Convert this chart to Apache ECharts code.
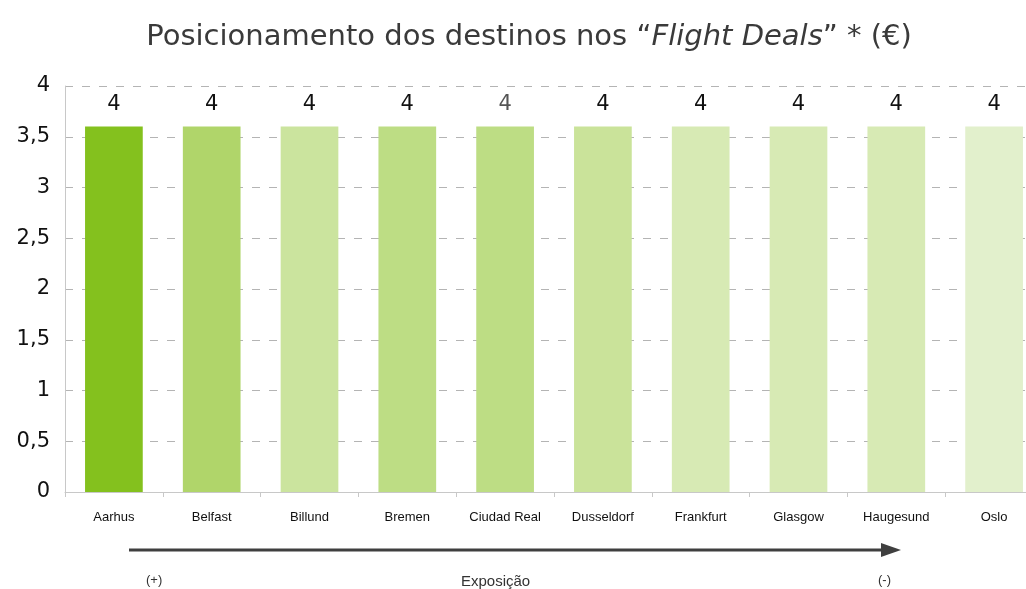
<!DOCTYPE html>
<html>
<head>
<meta charset="utf-8">
<script src="https://cdn.jsdelivr.net/npm/echarts@6/dist/echarts.min.js"></script>
<style>
  html, body { margin: 0; padding: 0; background: #fff; overflow: hidden; }
  /* o gráfico original é cortado à direita */
  #chart { width: 1043px; height: 589px; }
</style>
</head>
<body>
<div id="chart"></div>
<script>
// destinos (ordem por exposição)
var categories = ['Aarhus', 'Belfast', 'Billund', 'Bremen', 'Ciudad Real', 'Dusseldorf', 'Frankfurt', 'Glasgow', 'Haugesund', 'Oslo']
// valores das barras
var values = [3.6, 3.6, 3.6, 3.6, 3.6, 3.6, 3.6, 3.6, 3.6, 3.6]
// rótulos em cima das barras
var barLabels = ['4', '4', '4', '4', '4', '4', '4', '4', '4', '4']
// eixo Y
var yTicks = [0, 0.5, 1, 1.5, 2, 2.5, 3, 3.5, 4]

// cores das barras (verde a desvanecer)
var barColors = ['#84c11e', '#b0d56a', '#cbe49e', '#bddd84', '#bddd84', '#cae39a', '#d7eab4', '#d7eab4', '#d7eab4', '#e2f0cc']

var myChart = echarts.init(document.getElementById('chart'))

myChart.setOption({
    animation: false,
    title: {
        text: 'Posicionamento dos destinos nos “{i|Flight Deals}” * (€)',
        left: 524,
        textAlign: 'center',
        top: 18,
        textStyle: {
            fontFamily: 'DejaVu Sans',
            fontSize: 29,
            fontWeight: 'normal',
            color: '#3a3a3a',
            rich: {
                i: {
                    fontFamily: 'DejaVu Sans',
                    fontSize: 29,
                    fontStyle: 'italic',
                    color: '#3a3a3a'
                }
            }
        }
    },
    grid: {
        left: 65,
        right: 0,
        top: 86,
        bottom: 97,
        containLabel: false
    },
    xAxis: {
        type: 'category',
        data: categories,
        axisLine: { lineStyle: { color: '#c8c8c8', width: 1 } },
        axisTick: { show: true, alignWithLabel: false, length: 5, lineStyle: { color: '#c8c8c8' } },
        axisLabel: {
            fontFamily: 'Liberation Sans',
            fontSize: 13,
            color: '#111',
            margin: 19,
            interval: 0
        }
    },
    yAxis: {
        type: 'value',
        min: 0,
        max: 4,
        interval: 0.5,
        axisLine: { show: true, lineStyle: { color: '#c8c8c8' } },
        axisTick: { show: false },
        axisLabel: {
            fontFamily: 'DejaVu Sans',
            fontSize: 21,
            color: '#111',
            margin: 15,
            formatter: function (v) {
                return yTicks.indexOf(v) >= 0 ? String(v).replace('.', ',') : ''
            }
        },
        splitLine: {
            show: true,
            lineStyle: { color: '#b4b4b4', type: [8, 9], width: 1.2 }
        }
    },
    series: [
        {
            type: 'bar',
            barCategoryGap: '41%',
            data: values.map(function (v, i) {
                return {
                    value: v,
                    itemStyle: { color: barColors[i] },
                    label: { color: i === 4 ? '#555' : '#111' }
                }
            }),
            label: {
                show: true,
                position: 'top',
                distance: 12,
                fontFamily: 'DejaVu Sans',
                fontSize: 21,
                formatter: function (p) {
                    return barLabels[p.dataIndex]
                }
            }
        }
    ],
    // seta de exposição
    graphic: [
        {
            type: 'line',
            shape: { x1: 129, y1: 550, x2: 884, y2: 550 },
            style: { stroke: '#3f3f3f', lineWidth: 3 }
        },
        {
            type: 'polygon',
            shape: { points: [[881, 543], [901, 550], [881, 557]] },
            style: { fill: '#3f3f3f' }
        },
        {
            type: 'text',
            left: 146, top: 574,
            style: { text: '(+)', font: '13px "Liberation Sans"', fill: '#333' }
        },
        {
            type: 'text',
            left: 461, top: 574,
            style: { text: 'Exposição', font: '15px "Liberation Sans"', fill: '#333' }
        },
        {
            type: 'text',
            left: 878, top: 574,
            style: { text: '(-)', font: '13px "Liberation Sans"', fill: '#333' }
        }
    ]
})
</script>
</body>
</html>
